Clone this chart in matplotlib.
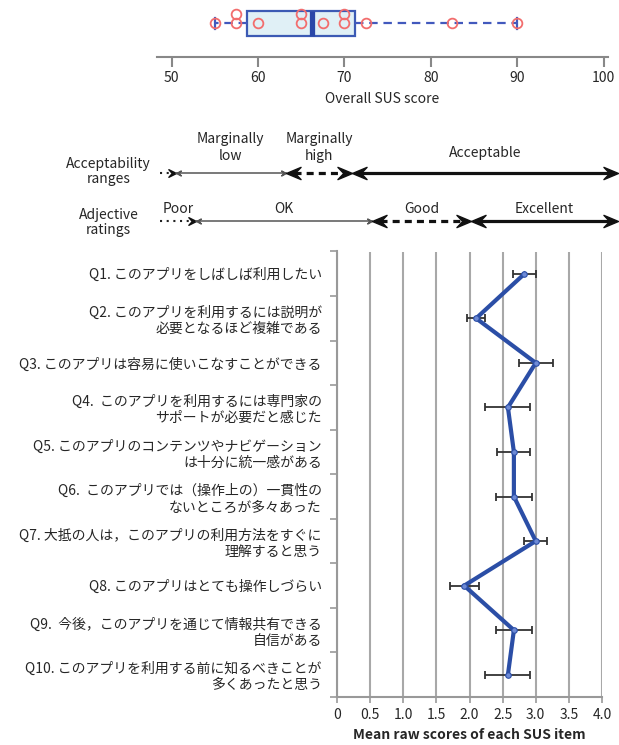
import numpy as np
import matplotlib.pyplot as plt
from matplotlib.path import Path

plt.rcParams['font.family'] = ['Noto Sans CJK JP', 'DejaVu Sans']
plt.rcParams['text.color'] = '#262626'
plt.rcParams['axes.labelcolor'] = '#262626'
plt.rcParams['xtick.labelcolor'] = '#262626'
plt.rcParams['ytick.labelcolor'] = '#262626'

# overall SUS scores of the participants
sus_scores = [55, 57.5, 57.5, 60, 65, 65, 67.5, 70, 70, 72.5, 82.5, 90]
sus_ticks = [50, 60, 70, 80, 90, 100]

# acceptability ranges / adjective ratings on the SUS scale
accept_names = ['', 'Marginally\nlow', 'Marginally\nhigh', 'Acceptable']
accept_edges = [48.7, 50.5, 63.2, 70.9, 101.6]
adjective_names = ['Poor', 'OK', 'Good', 'Excellent']
adjective_edges = [48.7, 52.8, 73.2, 84.7, 101.6]

items = [
    'Q1. このアプリをしばしば利用したい',
    'Q2. このアプリを利用するには説明が\n必要となるほど複雑である',
    'Q3. このアプリは容易に使いこなすことができる',
    'Q4.  このアプリを利用するには専門家の\nサポートが必要だと感じた',
    'Q5. このアプリのコンテンツやナビゲーション\nは十分に統一感がある',
    'Q6.  このアプリでは（操作上の）一貫性の\nないところが多々あった',
    'Q7. 大抵の人は，このアプリの利用方法をすぐに\n理解すると思う',
    'Q8. このアプリはとても操作しづらい',
    'Q9.  今後，このアプリを通じて情報共有できる\n自信がある',
    'Q10. このアプリを利用する前に知るべきことが\n多くあったと思う',
]
item_means = [2.83, 2.10, 3.00, 2.58, 2.67, 2.67, 3.00, 1.92, 2.67, 2.58]
item_errs = [0.17, 0.14, 0.26, 0.34, 0.25, 0.27, 0.17, 0.22, 0.27, 0.34]
score_ticks = [0, 0.5, 1.0, 1.5, 2.0, 2.5, 3.0, 3.5, 4.0]
score_labels = ['0', '0.5', '1.0', '1.5', '2.0', '2.5', '3.0', '3.5', '4.0']

W, H = 619, 745
fig = plt.figure(figsize=(W / 100, H / 100), dpi=100)


def head(direction, half=0.42, notch=0.6):
    s = direction
    verts = [(0, 0), (-s, half), (-s * notch, 0), (-s, -half), (0, 0)]
    codes = [Path.MOVETO, Path.LINETO, Path.LINETO, Path.LINETO, Path.CLOSEPOLY]
    return Path(verts, codes)


# ---- top: box plot of overall SUS score
ax0 = fig.add_axes([157 / W, 1 - 57 / H, 451 / W, 57 / H])
q1, med, q3 = np.percentile(sus_scores, [25, 50, 75], method='midpoint')
iqr = q3 - q1
lo = min(s for s in sus_scores if s >= q1 - 1.5 * iqr)
hi = max(s for s in sus_scores if s <= q3 + 1.5 * iqr)
stats = [dict(med=med, q1=q1, q3=q3, whislo=lo, whishi=hi, fliers=[])]
ax0.bxp(stats, positions=[1], widths=0.75, orientation='horizontal',
        patch_artist=True, showfliers=False, capwidths=0.3,
        boxprops=dict(facecolor='#e0f0f6', edgecolor='#3c5ab4', lw=1.6),
        whiskerprops=dict(color='#4259bd', lw=1.6, ls=(0, (3.8, 2.6))),
        capprops=dict(color='#4259bd', lw=1.6),
        medianprops=dict(color='#2a47a8', lw=3.8))
seen = {}
py = []
for s in sus_scores:
    k = seen.get(s, 0)
    seen[s] = k + 1
    py.append(1 + 0.28 * k)
ax0.plot(sus_scores, py, 'o', mfc='none', mec='#f26d6d', ms=7, mew=1.3, zorder=5)
ax0.set_xlim(48.3, 100.5)
ax0.set_ylim(0, 1.7)
ax0.set_yticks([])
ax0.set_xticks(sus_ticks)
for sp in ['top', 'left', 'right']:
    ax0.spines[sp].set_visible(False)
ax0.spines['bottom'].set_color('#888888')
ax0.spines['bottom'].set_linewidth(1.5)
ax0.tick_params(axis='x', direction='out', length=7, width=1.5, color='#888888',
                labelsize=10, pad=3)
ax0.set_xlabel('Overall SUS score', fontsize=10, labelpad=5)

# ---- middle: acceptability ranges and adjective ratings
ax1 = fig.add_axes([157 / W, 1 - 245 / H, 451 / W, 125 / H])
ax1.set_xlim(48.3, 100.5)
ax1.set_ylim(0, 1)
ax1.axis('off')


def draw_row(edges, names, y, ylab):
    for i in range(len(edges) - 1):
        x0, x1 = edges[i], edges[i + 1]
        if i == 0:
            ax1.plot([x0, x1 - 0.5], [y, y], color='#222222', lw=1.5, ls=(0, (1, 2.2)),
                     clip_on=False)
            ax1.plot([x1], [y], marker=head(1, 0.5, 0.55), ms=11, color='#111111',
                     clip_on=False, lw=0)
        elif i == 1:
            ax1.plot([x0, x1], [y, y], color='#555555', lw=1.1, clip_on=False)
            ax1.plot([x0], [y], marker=head(-1, 0.5, 0.5), ms=7, color='#555555', lw=0, clip_on=False)
            ax1.plot([x1], [y], marker=head(1, 0.5, 0.5), ms=7, color='#555555', lw=0, clip_on=False)
        else:
            ls = (0, (2.2, 1.6)) if i == 2 else '-'
            ax1.plot([x0 + 0.9, x1 - 0.9], [y, y], color='#111111', lw=2.3, ls=ls,
                     solid_capstyle='butt', dash_capstyle='butt', clip_on=False)
            ax1.plot([x0], [y], marker=head(-1), ms=21, color='#111111', lw=0, clip_on=False)
            ax1.plot([x1], [y], marker=head(1), ms=21, color='#111111', lw=0, clip_on=False)
        if names[i]:
            ax1.text((x0 + x1) / 2, ylab[i], names[i], ha='center', va='center',
                     fontsize=10, linespacing=1.2)


draw_row(accept_edges, accept_names, 0.578, [0, 0.78, 0.78, 0.74])
draw_row(adjective_edges, adjective_names, 0.192, [0.29] * 4)
ax1.text(42.7, 0.59, 'Acceptability\nranges', ha='center', va='center', fontsize=10,
         linespacing=1.1)
ax1.text(42.7, 0.18, 'Adjective\nratings', ha='center', va='center', fontsize=10,
         linespacing=1.1)

# ---- bottom: mean raw score for each SUS item
ax = fig.add_axes([337 / W, 48 / H, 265 / W, 445.5 / H])
y = np.arange(len(items))
ax.errorbar(item_means, y, xerr=item_errs, fmt='none', ecolor='#333333',
            elinewidth=1.3, capsize=3, capthick=1.3, zorder=3)
ax.plot(item_means, y, color='#2b4ea6', lw=3, marker='o', ms=4,
        mfc='#6d8ad6', mec='#2b4ea6', mew=0.8, zorder=4)
ax.set_xlim(0, 4)
ax.set_ylim(len(items) - 0.5, -0.5)
ax.set_xticks(score_ticks)
ax.set_xticklabels(score_labels)
ax.set_yticks(np.arange(len(items) + 1) - 0.5)
ax.set_yticklabels([])
ax.set_yticks(y, minor=True)
ax.set_yticklabels(items, minor=True, fontsize=10, linespacing=1.2)
ax.tick_params(axis='y', which='minor', length=0, pad=11)
ax.tick_params(axis='y', which='major', length=5, width=1.2, color='#999999')
ax.tick_params(axis='x', length=4, width=1.2, color='#999999', labelsize=10, pad=4)
ax.grid(axis='x', color='#a8a8a8', lw=1.5)
ax.set_axisbelow(True)
for sp in ['top', 'right']:
    ax.spines[sp].set_visible(False)
for sp in ['left', 'bottom']:
    ax.spines[sp].set_color('#999999')
    ax.spines[sp].set_linewidth(1.5)
ax.set_xlabel('Mean raw scores of each SUS item', fontsize=10, fontweight='bold',
              labelpad=4)

fig.savefig('out.png', dpi=100)
